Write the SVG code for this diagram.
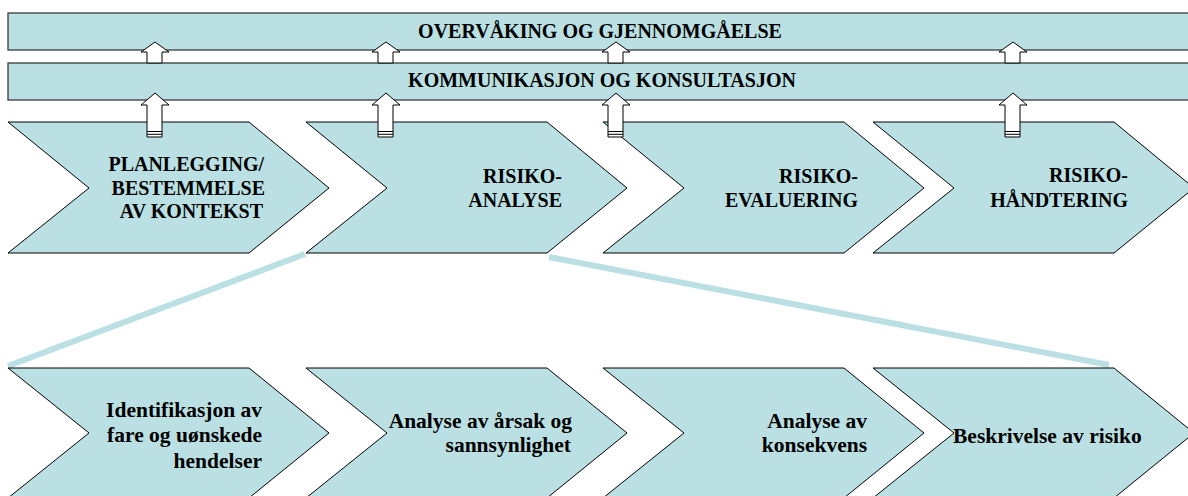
<svg xmlns="http://www.w3.org/2000/svg" width="1188" height="496" viewBox="0 0 1188 496">
<style>
.bar{fill:#BBE0E3;stroke:#3a3a3a;stroke-width:1.3}
.chev{fill:#BBE0E3;stroke:#000;stroke-width:1}
.arr{fill:#fff;stroke:#000;stroke-width:1}
.link{stroke:#BBE0E3;stroke-width:6;fill:none}
.t{font-family:"Liberation Serif","Times New Roman",serif;font-weight:bold;fill:#000}
.big{font-size:20px}
.small{font-size:21.5px}
</style>
<defs>
<polygon id="chevU" points="0,122 241,122 321,188 241,253 0,253 81,188"/>
<polygon id="chevL" points="0,368 241,368 321,433 241,498 0,498 81,433"/>
<g id="arrTop"><polygon class="arr" points="-14,52 0,42 14,52 7,52 7,63 -8,63 -8,52"/></g>
<g id="arrLow"><polygon class="arr" points="-14,105 0,93 14,105 7,105 7,137 -8,137 -8,105"/><path d="M-8,131.5H7M-8,134.3H7" stroke="#000" stroke-width="1"/></g>
</defs>
<g id="bar-overvaking">
<rect class="bar" x="8" y="13" width="1185" height="37"/>
<text class="t big" x="600" y="38" text-anchor="middle">OVERVÅKING OG GJENNOMGÅELSE</text>
</g>
<g id="bar-kommunikasjon">
<rect class="bar" x="8" y="63" width="1185" height="37"/>
<text class="t big" x="602" y="87" text-anchor="middle">KOMMUNIKASJON OG KONSULTASJON</text>
</g>
<g id="connectors">
<line class="link" x1="305" y1="254" x2="8" y2="366"/>
<line class="link" x1="549" y1="257" x2="1109" y2="365"/>
</g>
<g id="planlegging">
<use href="#chevU" class="chev" x="8"/>
<text class="t big" text-anchor="end"><tspan x="264" y="171">PLANLEGGING/</tspan><tspan x="265" y="195">BESTEMMELSE</tspan><tspan x="263" y="218">AV KONTEKST</tspan></text>
</g>
<g id="risikoanalyse">
<use href="#chevU" class="chev" x="306"/>
<text class="t big" text-anchor="end"><tspan x="562" y="183">RISIKO-</tspan><tspan x="562" y="207">ANALYSE</tspan></text>
</g>
<g id="risikoevaluering">
<use href="#chevU" class="chev" x="603"/>
<text class="t big" text-anchor="end"><tspan x="858" y="183">RISIKO-</tspan><tspan x="858" y="207">EVALUERING</tspan></text>
</g>
<g id="risikohandtering">
<use href="#chevU" class="chev" x="873"/>
<text class="t big" text-anchor="end"><tspan x="1128" y="182">RISIKO-</tspan><tspan x="1128" y="207">HÅNDTERING</tspan></text>
</g>
<g id="identifikasjon">
<use href="#chevL" class="chev" x="8"/>
<text class="t small" text-anchor="end"><tspan x="262" y="417">Identifikasjon av</tspan><tspan x="262" y="442">fare og uønskede</tspan><tspan x="262" y="468">hendelser</tspan></text>
</g>
<g id="arsak">
<use href="#chevL" class="chev" x="306"/>
<text class="t small" text-anchor="end"><tspan x="572" y="428">Analyse av årsak og</tspan><tspan x="571" y="452">sannsynlighet</tspan></text>
</g>
<g id="konsekvens">
<use href="#chevL" class="chev" x="603"/>
<text class="t small" text-anchor="end"><tspan x="867" y="428">Analyse av</tspan><tspan x="867" y="452">konsekvens</tspan></text>
</g>
<g id="beskrivelse">
<use href="#chevL" class="chev" x="873"/>
<text class="t small" x="953" y="443">Beskrivelse av risiko</text>
</g>
<g id="arrows">
<use href="#arrTop" x="155"/><use href="#arrTop" x="386"/><use href="#arrTop" x="616"/><use href="#arrTop" x="1013"/>
<use href="#arrLow" x="155"/><use href="#arrLow" x="386"/><use href="#arrLow" x="616"/><use href="#arrLow" x="1013"/>
</g>
</svg>
